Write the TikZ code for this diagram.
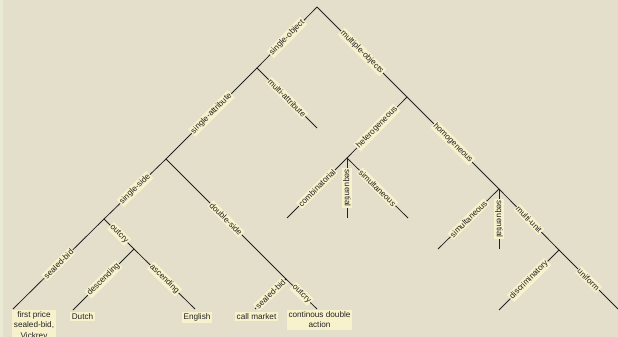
\documentclass[tikz,border=0pt]{standalone}
\usepackage{fontspec}
\setmainfont{Liberation Sans}
\definecolor{bg}{HTML}{E4DFCA}
\definecolor{lab}{HTML}{F8F2CC}
\definecolor{strip}{HTML}{E8EAD4}
\definecolor{ink}{HTML}{222222}
\begin{document}
\begin{tikzpicture}[x=1pt,y=-1pt,
  edge/.style={draw=ink, line width=0.8pt},
  elab/.style={midway, sloped, fill=lab, inner xsep=1pt, inner ysep=1.3pt, font=\fontsize{8.2}{9}\selectfont, text=ink},
  leaf/.style={fill=lab, inner xsep=1.5pt, inner ysep=1.5pt, align=center, font=\fontsize{8.2}{10.3}\selectfont, text=ink}]
\fill[bg] (0,0) rectangle (618,337);
\fill[strip] (0,0) rectangle (3,337);
\useasboundingbox (0,0) rectangle (618,337);
% internal nodes
\coordinate (root) at (317,7);
\coordinate (A) at (257,68);
\coordinate (B) at (407,97);
\coordinate (C) at (166,159);
\coordinate (D) at (104,219);
\coordinate (E) at (134,249);
\coordinate (F) at (286,279);
\coordinate (G) at (347,158);
\coordinate (H) at (499,189);
\coordinate (I) at (559,250);
% leaf end points
\coordinate (lfp) at (13,309);
\coordinate (ldutch) at (73,310);
\coordinate (leng) at (195,309);
\coordinate (lcall) at (255,309);
\coordinate (lcont) at (317,309);
\coordinate (lma) at (317,128);
\coordinate (lcomb) at (287,218);
\coordinate (lseqG) at (347,218);
\coordinate (lsimG) at (408,218);
\coordinate (lsimH) at (438,249);
\coordinate (lseqH) at (499,249);
\coordinate (ldisc) at (499,310);
\coordinate (luni) at (618,309);
% edges
\draw[edge] (root) -- node[elab] {single-object} (A);
\draw[edge] (root) -- node[elab] {multiple-objects} (B);
\draw[edge] (A) -- node[elab] {multi-attribute} (lma);
\draw[edge] (A) -- node[elab] {single-attribute} (C);
\draw[edge] (C) -- node[elab] {single-side} (D);
\draw[edge] (C) -- node[elab] {double-side} (F);
\draw[edge] (D) -- node[elab] {sealed-bid} (lfp);
\draw[edge] (D) -- node[elab] {outcry} (E);
\draw[edge] (E) -- node[elab] {descending} (ldutch);
\draw[edge] (E) -- node[elab] {ascending} (leng);
\draw[edge] (F) -- node[elab] {sealed-bid} (lcall);
\draw[edge] (F) -- node[elab] {outcry} (lcont);
\draw[edge] (B) -- node[elab] {heterogeneous} (G);
\draw[edge] (B) -- node[elab] {homogeneous} (H);
\draw[edge] (G) -- node[elab] {combinatorial} (lcomb);
\draw[edge] (G) -- node[elab] {sequential} (lseqG);
\draw[edge] (G) -- node[elab] {simultaneous} (lsimG);
\draw[edge] (H) -- node[elab] {simultaneous} (lsimH);
\draw[edge] (H) -- node[elab] {sequential} (lseqH);
\draw[edge] (H) -- node[elab] {multi-unit} (I);
\draw[edge] (I) -- node[elab] {discriminatory} (ldisc);
\draw[edge] (I) -- node[elab] {uniform} (luni);
% leaf labels
\node[leaf, anchor=north] (fp) at (34,310) {first price\\sealed-bid,\\Vickrey};
\node[leaf, anchor=north] (dutch) at (82.5,312) {Dutch};
\node[leaf, anchor=north] (eng) at (197,312) {English};
\node[leaf, anchor=north] (call) at (256.5,312) {call market};
\node[leaf, anchor=north] (cont) at (319.5,310) {continous double\\action};
\end{tikzpicture}
\end{document}
